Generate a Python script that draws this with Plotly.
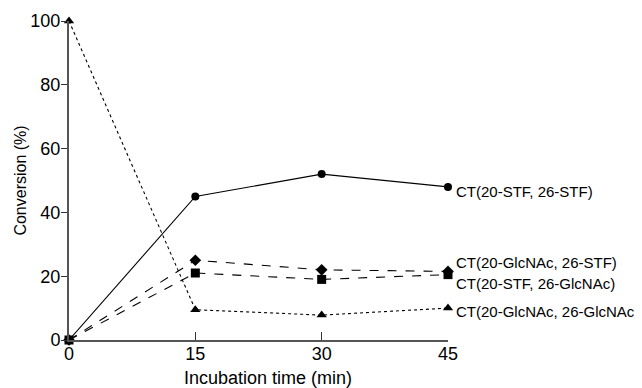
import plotly.graph_objects as go

time_min = [0, 15, 30, 45]
stf_stf = [0, 45, 52, 48]
glc_stf = [0, 25, 22, 21.5]
stf_glc = [0, 21, 19, 20.5]
glc_glc = [100, 9.5, 7.8, 10]

series = [
    ("CT(20-STF, 26-STF)", stf_stf, "solid", "circle", 8, -5),
    ("CT(20-GlcNAc, 26-STF)", glc_stf, "dash", "diamond", 9, 9),
    ("CT(20-STF, 26-GlcNAc)", stf_glc, "dash", "square", 9, -9),
    ("CT(20-GlcNAc, 26-GlcNAc)", glc_glc, "dot", "triangle-up", 9, -3),
]

FONT = "Liberation Sans, Arial, Helvetica"

fig = go.Figure()
for name, ys, dash, sym, size, yshift in series:
    fig.add_trace(go.Scatter(
        x=time_min, y=ys, mode="lines+markers", name=name,
        line=dict(color="black", width=1.1, dash=dash),
        marker=dict(symbol=sym, size=size, color="black"),
        cliponaxis=False, showlegend=False))
    fig.add_annotation(x=time_min[-1], y=ys[-1], text=name, showarrow=False,
                       xanchor="left", xshift=6, yshift=yshift,
                       font=dict(family=FONT, size=15, color="black"))

# axis titles
fig.add_annotation(xref="paper", yref="paper", x=0.524, y=-0.119,
                   xanchor="center", yanchor="middle", showarrow=False,
                   text="Incubation time (min)", font=dict(family=FONT, size=18))
fig.add_annotation(xref="paper", yref="paper", x=-0.129, y=0.5,
                   xanchor="center", yanchor="middle", showarrow=False,
                   textangle=-90, text="Conversion (%)",
                   font=dict(family=FONT, size=16))

# page body has an 8px margin, so the figure is sized/offset to compensate
fig.update_layout(
    width=634, height=380,
    margin=dict(l=61, r=194, t=13, b=48),
    paper_bgcolor="white", plot_bgcolor="white",
    font=dict(family=FONT, color="black"),
    xaxis=dict(range=[0, 45], tickvals=time_min, ticks="inside", ticklen=8,
               tickwidth=1.2, tickcolor="#333", showline=True, linecolor="#555",
               linewidth=2, showgrid=False, zeroline=False, automargin=False,
               tickfont=dict(size=18), ticklabelstandoff=-4),
    yaxis=dict(range=[0, 100], tickvals=[0, 20, 40, 60, 80, 100], ticks="outside",
               ticklen=6, tickwidth=1.2, tickcolor="#333", showline=True,
               linecolor="#555", linewidth=2, showgrid=False, zeroline=False,
               automargin=False, tickfont=dict(size=18), ticklabelstandoff=-3),
)

fig.write_html("out.html")
